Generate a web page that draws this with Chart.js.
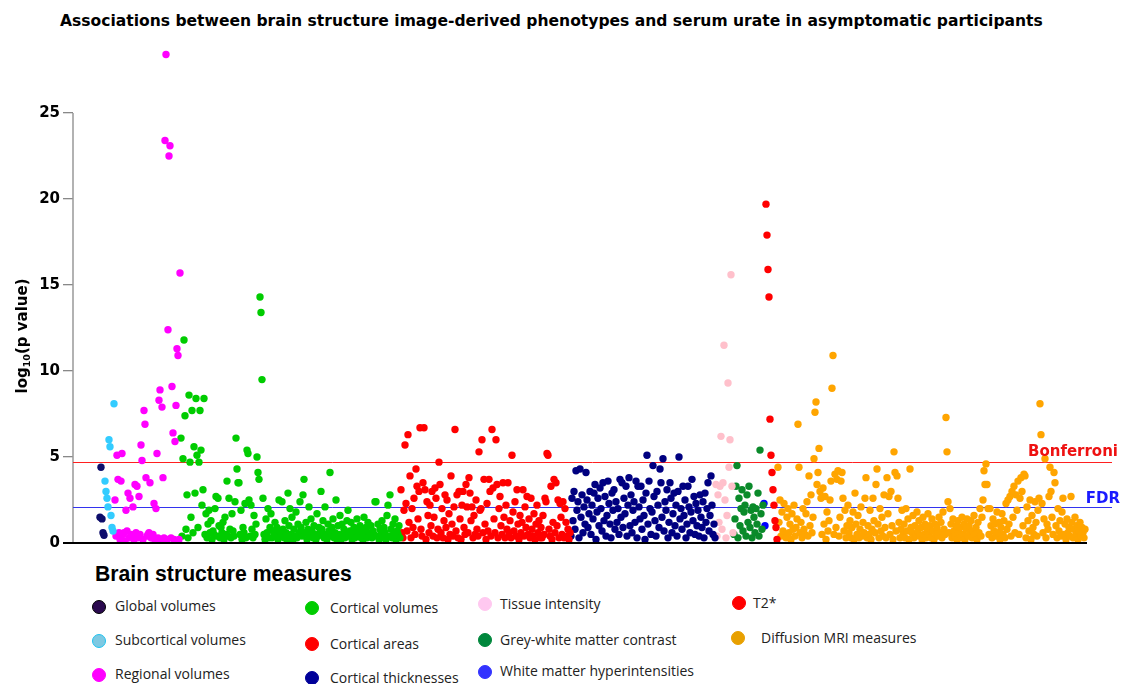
<!DOCTYPE html>
<html>
<head>
<meta charset="utf-8">
<script src="https://cdn.jsdelivr.net/npm/chart.js@4.4.0/dist/chart.umd.min.js"></script>
<style>
body { margin: 0; background: #fff; width: 1123px; height: 684px; position: relative; overflow: hidden; font-family: "Open Sans", sans-serif; }
#titulo { position: absolute; left: 60px; top: 12px; font: bold 15.55px "DejaVu Sans"; white-space: nowrap; color: #000; }
#grafico { position: absolute; left: 0; top: 0; }
#legTitulo { position: absolute; left: 95px; top: 562px; font: bold 21.2px "Liberation Sans"; color: #000; white-space: nowrap; }
.item { position: absolute; font-size: 14px; color: #222; white-space: nowrap; height: 20px; line-height: 20px; }
.dot { position: absolute; width: 14px; height: 14px; border-radius: 50%; box-sizing: border-box; border: 1px solid transparent; }
</style>
</head>
<body>
<div id="titulo">Associations between brain structure image-derived phenotypes and serum urate in asymptomatic participants</div>
<canvas id="grafico" width="1123" height="560"></canvas>
<div id="legTitulo">Brain structure measures</div>
<div id="legenda"></div>
<script>
// categorias na ordem do eixo x
const categorias = ['Global volumes', 'Subcortical volumes', 'Regional volumes', 'Cortical volumes',
    'Cortical areas', 'Cortical thicknesses', 'Tissue intensity', 'Grey-white matter contrast',
    'White matter hyperintensities', 'T2*', 'Diffusion MRI measures'];

// -log10(p) por fenótipo
const globalVol = [1.5, 4.4, 1.4, 0.6, 0.45];
const subcortical = [3.6, 3.0, 2.6, 2.1, 6.0, 5.6, 1.6, 0.9, 0.7, 8.1];
const regional = [
    2.5, 0.4, 5.1, 3.7, 0.6, 0.2, 3.6, 5.2, 0.5, 0.6,
    0.1, 1.9, 0.7, 2.9, 0.3, 2.6, 0.5, 0.4, 2.1, 0.2,
    3.4, 0.6, 3.3, 0.3, 2.7, 0.5, 5.7, 4.8, 0.2, 7.7,
    6.9, 3.8, 0.4, 0.5, 0.6, 3.5, 0.3, 0.3, 0.5, 2.3,
    0.2, 2.0,
    5.2, 0.3, 8.3, 8.9, 0.2, 7.9, 3.8, 0.3, 23.4, 28.4,
    0.2, 12.4, 22.5, 23.1, 0.3, 9.1, 6.4, 0.2, 5.9, 8.0,
    11.3, 10.9, 0.2, 15.7];
const corticalVol = [
    6.1, 0.4, 4.9, 11.8, 7.4, 0.8, 2.8, 0.3, 8.6, 4.7,
    1.5, 7.7, 0.6, 5.6, 2.9, 8.4, 5.1, 0.9, 4.7, 7.7,
    5.4, 2.2, 3.1, 8.4, 0.5, 1.7, 0.3, 1.1, 1.9, 0.6,
    1.3, 0.2, 0.7, 0.5, 2.0, 2.7, 0.4, 2.6, 1.0, 0.3,
    0.9, 0.6, 1.2, 0.2, 1.5, 0.5, 3.6, 0.4, 2.6, 0.8,
    0.3, 1.7, 0.7, 0.4, 2.4, 6.1, 4.3, 3.5, 3.5, 0.5,
    1.9, 0.2, 0.9, 0.6, 2.3, 0.3, 5.4, 5.2, 2.5, 0.4,
    2.2, 0.8, 0.3, 1.6, 0.5, 1.1, 5.0, 4.1, 3.7, 14.3,
    13.4, 9.5, 2.6, 0.5, 0.2, 1.4, 0.6, 2.0, 0.3, 0.9,
    1.7, 0.3, 0.7, 0.4, 1.2, 0.5, 0.9, 0.2, 2.5, 0.6,
    0.4, 2.4, 0.8, 0.3, 1.3, 0.6, 0.2, 2.9, 1.0, 2.0,
    0.5, 1.5, 0.2, 0.8, 0.4, 1.8, 0.3, 1.1, 0.6, 2.4,
    0.9, 0.4, 2.8, 3.7, 0.6, 1.2, 0.2, 0.8, 2.1, 0.5,
    1.4, 0.7, 0.3, 1.0, 0.5, 0.2, 1.7, 0.4, 0.9, 0.6,
    3.0, 0.8, 1.3, 0.3, 2.1, 0.5, 0.2, 1.1, 0.7, 4.1,
    0.4, 0.9, 1.4, 0.3, 0.6, 2.5, 0.2, 1.0, 0.5, 1.6,
    0.2, 1.1, 0.5, 0.8, 0.3, 0.6, 1.3, 1.9, 0.4, 0.7,
    1.2, 0.2, 0.5, 0.9, 0.3, 0.7, 1.4, 0.4, 0.6, 1.0,
    0.3, 0.8, 0.2, 1.5, 0.5, 0.9, 0.3, 1.2, 0.6, 0.4,
    1.0, 0.3, 0.7, 0.5, 2.4, 2.4, 0.4, 1.1, 0.2, 0.8,
    0.5, 1.3, 0.3, 0.9, 0.6, 0.2, 1.6, 2.2, 0.4, 2.8,
    0.8, 0.3, 1.1, 0.6, 1.4, 0.2, 0.7, 0.5, 1.0, 0.3];
const corticalArea = [
    3.1, 0.6, 0.3, 1.9, 5.7, 2.3, 0.7, 6.3, 1.2, 3.9,
    0.3, 2.0, 0.9, 2.6, 0.5, 4.3, 3.3, 1.4, 3.0, 6.7,
    0.8, 0.4, 3.5, 6.7, 3.1, 0.2, 2.4, 1.6, 0.6, 2.2,
    1.0, 3.0, 0.4, 1.5, 3.2, 2.6, 0.3, 0.8, 4.7, 3.4,
    0.6, 2.0, 0.3, 1.3, 2.8, 0.9, 2.5, 0.2, 1.7, 0.5,
    3.9, 1.1, 0.4, 2.1, 6.6, 0.7, 2.8, 0.3, 3.0, 1.4,
    0.2, 2.2, 3.0, 0.9, 0.5, 3.4, 2.1, 0.6, 3.8, 2.9,
    1.3, 2.1, 0.3, 1.6, 0.5, 2.5, 0.8, 0.4, 5.3, 1.9,
    2.0, 6.0, 0.6, 3.7, 1.1, 0.2, 2.3, 0.7, 3.7, 3.0,
    0.4, 6.6, 3.2, 1.4, 0.6, 6.0, 3.4, 0.3, 2.0, 2.7,
    1.0, 0.5, 3.5, 1.5, 0.3, 2.2, 0.8, 3.5, 0.6, 1.3,
    0.3, 5.1, 1.8, 0.7, 2.4, 0.4, 3.1, 1.1, 0.2, 1.6,
    0.6, 1.2, 3.1, 0.4, 2.1, 0.9, 2.7, 0.5, 1.4, 0.3,
    2.6, 0.8, 0.4, 1.7, 0.2, 1.1, 2.2, 0.6, 1.3, 0.3,
    0.9, 0.3, 1.6, 0.5, 2.6, 2.4, 5.2, 5.1, 0.8, 0.4,
    3.3, 0.2, 1.2, 3.7, 0.6, 3.5, 1.0, 2.5, 0.3, 2.3,
    1.5, 0.5, 2.4, 0.3, 2.0, 1.2, 0.4, 0.8, 0.2, 0.6];
const corticalThick = [
    0.4, 2.6, 1.3, 3.0, 0.8, 4.2, 1.9, 2.4, 0.3, 4.3,
    1.5, 2.8, 0.6, 2.1, 1.1, 4.1, 2.5, 0.9, 1.7, 3.0,
    0.5, 2.2, 1.4, 2.9, 3.4, 0.2, 1.8, 2.6, 1.0, 3.2,
    2.0, 0.7, 3.5, 1.3, 2.7, 0.4, 1.6, 3.6, 2.3, 1.1,
    0.3, 2.9, 1.9, 3.1, 0.8, 2.4, 1.2, 2.0, 0.5, 3.7,
    1.5, 3.5, 0.9, 2.6, 1.7, 3.3, 0.4, 2.2, 3.8, 1.0,
    2.8, 0.6, 1.9, 2.4, 1.2, 3.6, 0.3, 3.3, 2.1, 1.4,
    3.3, 0.8, 2.5, 1.6, 0.2, 2.9, 5.1, 1.1, 3.6, 2.0,
    0.5, 1.8, 4.5, 2.7, 1.3, 0.4, 3.0, 2.2, 0.9, 4.3,
    3.5, 1.5, 4.9, 0.7, 2.4, 1.9, 3.1, 0.3, 1.2, 3.5,
    2.6, 0.6, 1.7, 2.9, 1.0, 2.2, 0.4, 3.0, 5.0, 1.4,
    2.0, 0.8, 3.3, 1.6, 2.5, 0.3, 1.1, 3.3, 2.1, 0.6,
    1.8, 3.7, 1.3, 2.7, 0.5, 2.3, 1.0, 1.9, 0.4, 2.8,
    1.5, 0.9, 2.4, 0.3, 2.9, 1.2, 2.0, 3.5, 0.7, 1.6,
    3.9, 2.2, 0.5, 1.1, 0.3];
const tissueInt = [3.4, 0.4, 2.8, 1.2, 3.3, 6.2, 0.8, 3.5, 11.5, 2.5, 0.3, 1.6, 9.3, 4.4, 6.0, 15.6, 3.3, 0.6];
const greyWhite = [
    0.5, 1.4, 3.3, 4.5, 0.3, 2.6, 1.0, 2.0, 3.1, 0.7,
    1.8, 2.2, 0.4, 2.8, 1.2, 3.3, 0.9, 1.9, 0.3, 2.1,
    1.5, 0.6, 2.0, 1.1, 2.9, 0.4, 5.4, 1.7, 0.8, 2.2];
const wmh = [2.3, 1.0];
const t2star = [19.7, 17.9, 15.9, 14.3, 7.2, 5.1, 4.1, 3.1, 2.2, 1.3, 0.9, 0.2];
const diffusion = [
    4.4, 1.2, 2.5, 0.4, 1.8, 0.7, 2.3, 0.5, 0.3, 1.5,
    2.0, 0.6, 1.1, 0.2, 1.7, 0.8, 2.2, 0.4, 0.9, 1.4,
    6.9, 4.4, 0.6, 1.2, 0.3, 2.0, 0.8, 0.5, 1.7, 2.4,
    0.4, 3.9, 1.0, 2.8, 0.6, 1.5, 4.9, 7.6, 8.2, 3.4,
    4.1, 5.5, 3.0, 2.6, 0.5, 3.2, 1.1, 2.7, 0.2, 1.8,
    0.7, 1.3, 2.5, 3.6, 9.0, 10.9, 0.5, 4.0, 0.9, 3.7,
    4.2, 0.4, 1.5, 3.6, 4.1, 2.6, 0.7, 1.9, 0.3, 1.0,
    2.2, 0.6, 1.3, 0.3, 0.9, 1.8, 0.2, 2.9, 1.1, 0.5,
    1.6, 0.3, 0.8, 2.1, 0.4, 1.2, 0.6, 2.6, 3.8, 0.3,
    1.0, 0.5, 1.9, 0.2, 0.8, 2.6, 1.3, 0.6, 3.4, 4.3,
    1.1, 0.3, 2.0, 0.7, 1.5, 0.4, 2.8, 0.9, 0.3, 3.8,
    1.7, 2.7, 0.5, 3.0, 1.0, 0.2, 5.3, 4.1, 0.7, 3.9,
    2.6, 1.2, 0.3, 0.8, 1.9, 0.5, 1.1, 0.3, 2.0, 0.7,
    1.4, 0.2, 4.3, 0.9, 0.6, 1.6, 0.3, 1.0, 0.4, 1.8,
    0.7, 1.3, 0.4, 0.9, 0.2, 1.5, 0.5, 1.1, 0.3, 0.8,
    1.7, 0.5, 1.0, 0.3, 1.4, 0.7, 0.2, 1.1, 0.5, 0.9,
    0.4, 1.5, 0.6, 1.2, 0.3, 1.8, 0.8, 0.5, 7.3, 5.3,
    2.4, 0.6, 2.0, 1.1, 0.3, 1.4, 0.7, 0.4, 1.0, 0.2,
    1.3, 0.6, 0.9, 0.3, 1.5, 0.5, 1.1, 0.2, 0.8, 1.4,
    0.4, 1.0, 0.6, 1.3, 0.3, 0.7, 1.6, 0.5, 0.9, 0.2,
    1.2, 0.6, 2.0, 0.4, 1.5, 2.5, 4.2, 3.4, 4.6, 3.4,
    2.0, 0.5, 2.0, 1.0, 0.3, 1.4, 0.7, 1.1, 0.4, 1.8,
    0.6, 1.2, 0.2, 0.9, 1.7, 0.5, 1.3, 0.3, 2.3, 0.8,
    2.5, 1.1, 2.7, 0.4, 3.0, 1.5, 3.3, 0.6, 2.8, 1.9,
    3.6, 0.5, 2.6, 3.8, 3.0, 1.0, 4.0, 3.9, 0.3, 2.1,
    1.3, 0.7, 2.5, 0.2, 1.6, 0.9, 0.5, 2.4, 1.2, 0.4,
    1.9, 2.6, 8.1, 6.3, 2.3, 0.6, 1.4, 4.9, 0.3, 1.1,
    0.8, 2.7, 4.4, 3.0, 1.5, 0.5, 4.1, 3.5, 1.0, 0.3,
    2.0, 0.7, 1.3, 0.4, 1.8, 2.6, 0.5, 1.1, 0.2, 1.4,
    0.6, 0.9, 0.4, 2.7, 1.2, 0.3, 0.8, 1.5, 0.5, 1.0,
    0.2, 0.7, 1.2, 0.4, 0.9, 0.6, 0.3, 0.8];

const valores = [globalVol, subcortical, regional, corticalVol, corticalArea, corticalThick,
    tissueInt, greyWhite, wmh, t2star, diffusion];

// limiares
const bonferroni = 4.69;
const fdr = 2.07;
const yTicks = [0, 5, 10, 15, 20, 25];

// cores dos pontos e da legenda
const coresPontos = ['#0d0d6b', '#33ccff', '#ff00ff', '#00cc00', '#ff0000', '#000080',
    '#ffc0cb', '#0a8a2a', '#0000ff', '#ff0000', '#ffa500'];
const legendaItens = [
    { cat: 0, fill: '#2b0a4f', edge: '#000000', mx: 99, my: 607, tx: 115, ty: 607 },
    { cat: 1, fill: '#7ec9e2', edge: '#1fc3f0', mx: 99, my: 641, tx: 115, ty: 641 },
    { cat: 2, fill: '#ff00ff', edge: '#ff00ff', mx: 99, my: 675, tx: 115, ty: 675 },
    { cat: 3, fill: '#00cc00', edge: '#00cc00', mx: 312, my: 608, tx: 330, ty: 609 },
    { cat: 4, fill: '#ff0000', edge: '#ff0000', mx: 312, my: 644, tx: 330, ty: 645 },
    { cat: 5, fill: '#000099', edge: '#000099', mx: 312, my: 678, tx: 330, ty: 679 },
    { cat: 6, fill: '#ffc8f0', edge: '#ffc8f0', mx: 485, my: 604, tx: 500, ty: 605 },
    { cat: 7, fill: '#00873c', edge: '#00873c', mx: 485, my: 640, tx: 500, ty: 641 },
    { cat: 8, fill: '#3333ff', edge: '#3333ff', mx: 485, my: 672, tx: 500, ty: 672 },
    { cat: 9, fill: '#ff0000', edge: '#ff0000', mx: 739, my: 603, tx: 753, ty: 604 },
    { cat: 10, fill: '#e8a000', edge: '#e8a000', mx: 738, my: 638, tx: 761, ty: 639 }
];

// monta datasets: x = índice do fenótipo
let idx = 0;
const datasets = valores.map((arr, c) => ({
    label: categorias[c],
    data: arr.map(v => ({ x: idx++, y: v })),
    backgroundColor: coresPontos[c],
    borderWidth: 0,
    pointRadius: 3.7,
    pointHoverRadius: 3.7
}));
const totalFenotipos = idx;

const linhasPlugin = {
    id: 'linhas',
    beforeDatasetsDraw(chart) {
        const { ctx, chartArea, scales: { x, y } } = chart;
        ctx.save();
        // eixo y só até 25
        ctx.strokeStyle = '#999';
        ctx.lineWidth = 1.5;
        ctx.beginPath();
        ctx.moveTo(chartArea.left, y.getPixelForValue(25));
        ctx.lineTo(chartArea.left, y.getPixelForValue(0));
        ctx.stroke();
        // limiares
        [[bonferroni, '#ff2020'], [fdr, '#3333ee']].forEach(([v, cor]) => {
            const py = Math.round(y.getPixelForValue(v)) + 0.5;
            ctx.strokeStyle = cor;
            ctx.lineWidth = 1;
            ctx.beginPath();
            ctx.moveTo(chartArea.left, py);
            ctx.lineTo(chartArea.right, py);
            ctx.stroke();
        });
        ctx.restore();
    },
    afterDatasetsDraw(chart) {
        const { ctx, chartArea, scales: { x, y } } = chart;
        ctx.save();
        // eixo x preto
        ctx.strokeStyle = '#000';
        ctx.lineWidth = 2;
        ctx.beginPath();
        ctx.moveTo(chartArea.left - 10, y.getPixelForValue(0));
        ctx.lineTo(x.getPixelForValue(totalFenotipos + 1), y.getPixelForValue(0));
        ctx.stroke();
        // rótulos dos limiares
        ctx.font = 'bold 15px "DejaVu Sans"';
        ctx.textAlign = 'right';
        ctx.textBaseline = 'middle';
        ctx.fillStyle = '#ee1111';
        ctx.fillText('Bonferroni', 1118, y.getPixelForValue(bonferroni) - 10);
        ctx.fillStyle = '#1a1aff';
        ctx.fillText('FDR', 1120, y.getPixelForValue(fdr) - 8);
        // título do eixo y com subscrito
        ctx.translate(23, 336);
        ctx.rotate(-Math.PI / 2);
        ctx.fillStyle = '#000';
        ctx.textAlign = 'left';
        ctx.textBaseline = 'middle';
        const f1 = 'bold 15px "DejaVu Sans"', f2 = 'bold 9.5px "DejaVu Sans"';
        ctx.font = f1; const w1 = ctx.measureText('log').width, w3 = ctx.measureText('(p value)').width;
        ctx.font = f2; const w2 = ctx.measureText('10').width;
        let px = -(w1 + w2 + w3) / 2;
        ctx.font = f1; ctx.fillText('log', px, 0); px += w1;
        ctx.font = f2; ctx.fillText('10', px, 5); px += w2;
        ctx.font = f1; ctx.fillText('(p value)', px, 0);
        ctx.restore();
    }
};

new Chart(document.getElementById('grafico'), {
    type: 'scatter',
    data: { datasets },
    options: {
        responsive: false,
        animation: false,
        devicePixelRatio: 1,
        layout: { padding: { top: 27, right: 11, bottom: 17, left: 0 } },
        plugins: { legend: { display: false }, tooltip: { enabled: false } },
        events: [],
        scales: {
            x: { type: 'linear', min: -27, max: 1012, display: false },
            y: {
                min: 0,
                max: 30,
                afterBuildTicks: s => { s.ticks = yTicks.map(v => ({ value: v })); },
                afterFit: s => { s.width = 73; },
                ticks: { color: '#000', padding: 3, font: { family: 'DejaVu Sans', weight: 'bold', size: 15 } },
                grid: { drawOnChartArea: false, tickLength: 10, color: '#888', lineWidth: 1.3 },
                border: { display: false }
            }
        }
    },
    plugins: [linhasPlugin]
});

// legenda em HTML
const leg = document.getElementById('legenda');
legendaItens.forEach(it => {
    const d = document.createElement('div');
    d.className = 'dot';
    d.style.left = (it.mx - 7) + 'px';
    d.style.top = (it.my - 7) + 'px';
    d.style.background = it.fill;
    d.style.borderColor = it.edge;
    leg.appendChild(d);
    const t = document.createElement('div');
    t.className = 'item';
    t.style.left = it.tx + 'px';
    t.style.top = (it.ty - 11) + 'px';
    t.textContent = categorias[it.cat];
    leg.appendChild(t);
});
</script>
</body>
</html>
